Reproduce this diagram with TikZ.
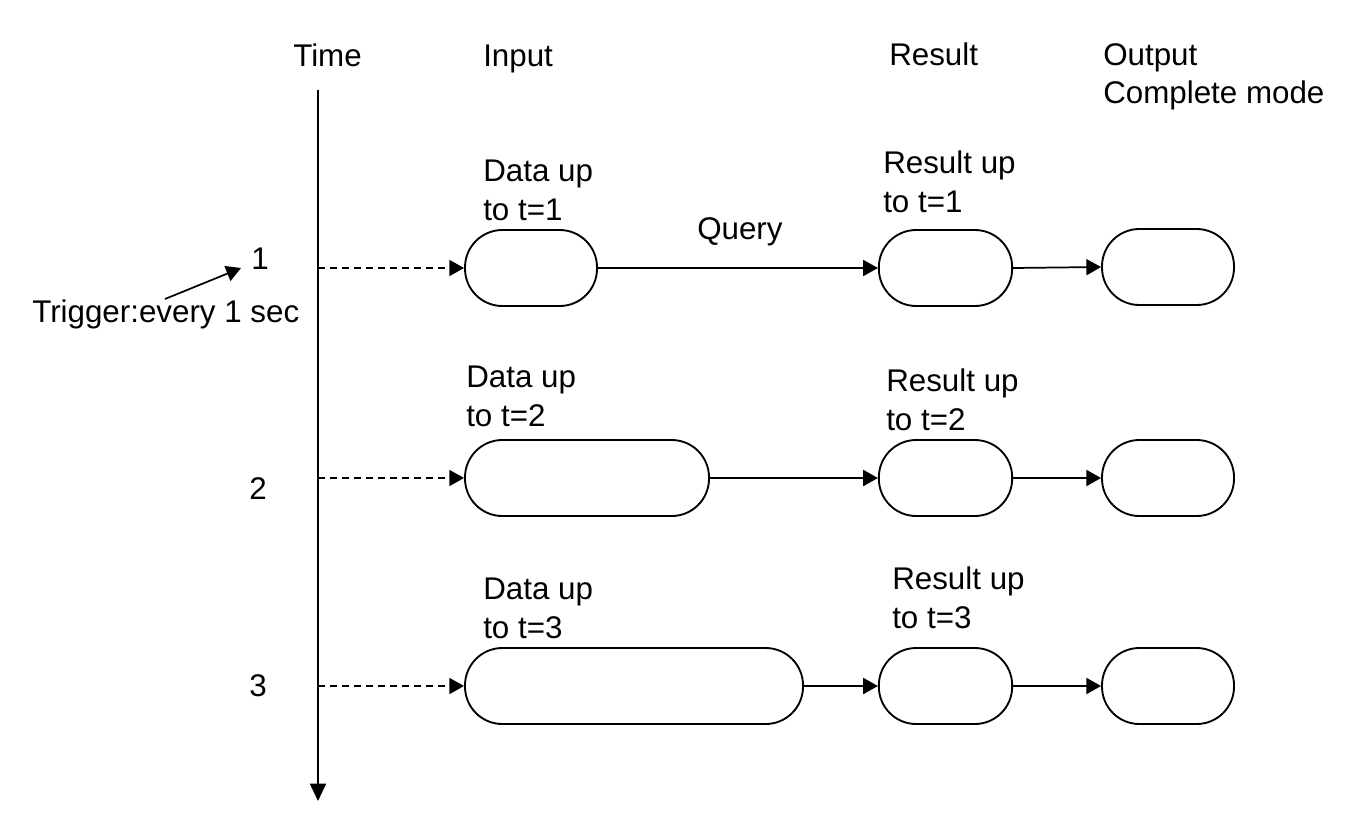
\documentclass[tikz,border=0pt]{standalone}
\usepackage{fontspec}
\setmainfont{Liberation Sans}
\usetikzlibrary{arrows.meta}
\begin{document}
\begin{tikzpicture}[x=0.75pt,y=-0.75pt,
  every node/.style={font=\fontsize{23.5}{29.25}\selectfont},
  stad/.style={draw,line width=1.4pt,rounded corners=28pt,minimum height=57pt,inner sep=0pt},
  lbl/.style={anchor=base west,align=left,inner sep=0pt},
  conn/.style={line width=1.3pt,-{Triangle[length=11pt,width=12pt]}},
  dconn/.style={line width=1.1pt,dash pattern=on 5pt off 4pt,-{Triangle[length=11pt,width=12pt]}}]
\useasboundingbox (0,0) rectangle (1355,825);
% headers
\node[lbl] (hTime) at (293,66) {Time};
\node[lbl] (hInput) at (483,66) {Input};
\node[lbl] (hResult) at (889,65) {Result};
\node[lbl] (hOutput) at (1103,65) {Output};
\node[lbl] (hMode) at (1103,103) {Complete mode};
% time axis
\coordinate (axtop) at (318,90);
\coordinate (axbot) at (318,801);
\draw[line width=1.3pt,-{Triangle[length=13pt,width=12pt]}] (axtop) -- (axbot);
\coordinate (t1) at (318,268);
\coordinate (t2) at (318,478);
\coordinate (t3) at (318,686);
% numbers
\node[lbl] (n1) at (251,269) {1};
\node[lbl] (n2) at (249,499) {2};
\node[lbl] (n3) at (249,696) {3};
\node[lbl] (trig) at (32,322) {Trigger:every 1 sec};
\coordinate (trigstart) at (165,299);
\coordinate (trigend) at (241,268);
\draw[conn] (trigstart) -- (trigend);
% row 1
\node[stad,minimum width=99pt] (in1) at (531,268) {};
\node[stad,minimum width=100pt] (r1) at (945.5,268) {};
\node[stad,minimum width=99pt] (o1) at (1168,267) {};
\draw[dconn] (t1) -- (in1.west);
\draw[conn] (in1.east) -- (r1.west);
\node[lbl] (q) at (697,239) {Query};
\draw[conn] (r1.east) -- (o1.west);
\node[lbl] (d1) at (483,220) {Data up\\to t=1};
\node[lbl] (rl1) at (883,212) {Result up\\to t=1};
% row 2
\node[stad,minimum width=183pt] (in2) at (587,478) {};
\node[stad,minimum width=100pt] (r2) at (945.5,478) {};
\node[stad,minimum width=99pt] (o2) at (1168,478) {};
\draw[dconn] (t2) -- (in2.west);
\draw[conn] (in2.east) -- (r2.west);
\draw[conn] (r2.east) -- (o2.west);
\node[lbl] (d2) at (466,426) {Data up\\to t=2};
\node[lbl] (rl2) at (886,430) {Result up\\to t=2};
% row 3
\node[stad,minimum width=253.5pt] (in3) at (634,686) {};
\node[stad,minimum width=100pt] (r3) at (945.5,686) {};
\node[stad,minimum width=99pt] (o3) at (1168,686) {};
\draw[dconn] (t3) -- (in3.west);
\draw[conn] (in3.east) -- (r3.west);
\draw[conn] (r3.east) -- (o3.west);
\node[lbl] (d3) at (483,638) {Data up\\to t=3};
\node[lbl] (rl3) at (892,628) {Result up\\to t=3};
\end{tikzpicture}
\end{document}
